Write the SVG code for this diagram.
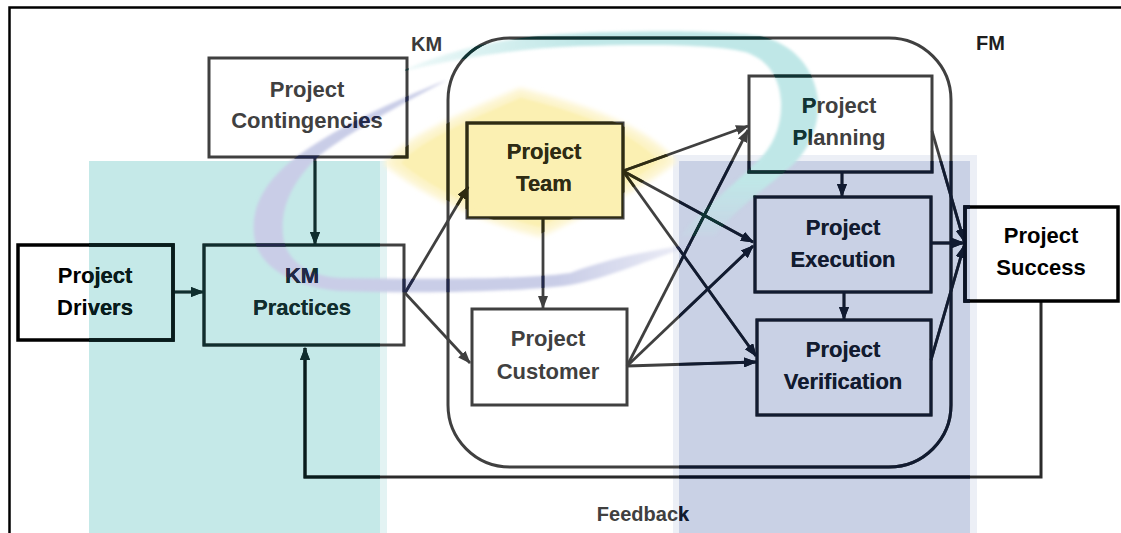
<svg xmlns="http://www.w3.org/2000/svg" width="1121" height="533" viewBox="0 0 1121 533">
  <style>
    .lbl { font-family: "Liberation Sans", Arial, sans-serif; font-weight: 700; font-size: 22px; text-anchor: middle; fill: var(--gray, #404040); }
    .lbl.ink { fill: var(--ink, #000000); }
    .tag { font-family: "Liberation Sans", Arial, sans-serif; font-weight: 700; font-size: 20px; fill: var(--gray, #3a3a3a); }
    .tag.ink { fill: var(--ink, #1e1e1e); }
    .box { fill: none; stroke: var(--gray, #404040); stroke-width: 3; }
    .box.ink { stroke: var(--ink, #000000); stroke-width: 3.5; }
    .wire { fill: none; stroke: var(--gray, #404040); stroke-width: 2.8; }
    .wire.fb { stroke: var(--ink, #2b2b2b); stroke-width: 3; }
    .frame { fill: none; stroke: #000000; stroke-width: 2.5; }
    /* darker inks where the backdrop shapes sit under the drawing */
    .t-teal { --gray: #0f2e2e; --ink: #071c1c; }
    .t-blue { --gray: #111b31; --ink: #0a1226; }
    .t-yellow { --gray: #2f2c12; --ink: #1c1a08; }
    .t-lav { --gray: #22284a; --ink: #141a3c; }
    .t-swoosh { --gray: #0f3434; --ink: #082424; }
  </style>
  <defs>
    <marker id="ah-gray" viewBox="0 0 13 10" refX="12" refY="5" markerWidth="13" markerHeight="10" markerUnits="userSpaceOnUse" orient="auto">
      <path d="M0,0 L13,5 L0,10 Z" fill="#404040"/>
    </marker>
    <marker id="ah-teal" viewBox="0 0 13 10" refX="12" refY="5" markerWidth="13" markerHeight="10" markerUnits="userSpaceOnUse" orient="auto">
      <path d="M0,0 L13,5 L0,10 Z" fill="#0f2e2e"/>
    </marker>
    <marker id="ah-olive" viewBox="0 0 13 10" refX="12" refY="5" markerWidth="13" markerHeight="10" markerUnits="userSpaceOnUse" orient="auto">
      <path d="M0,0 L13,5 L0,10 Z" fill="#2f2c12"/>
    </marker>
    <marker id="ah-navy" viewBox="0 0 13 10" refX="12" refY="5" markerWidth="13" markerHeight="10" markerUnits="userSpaceOnUse" orient="auto">
      <path d="M0,0 L13,5 L0,10 Z" fill="#111b31"/>
    </marker>

    <!-- backdrop emblem shapes -->
    <path id="diamond-shape" d="M387,163 C405,140 470,112 520,91 C575,105 640,125 673,161 C645,185 590,210 540,234 C490,222 425,195 387,163 Z"/>
    <path id="lav-shape" d="M447,80 C395,100 330,130 290,162 C260,187 248,215 256,245 C265,270 295,287 340,291 C420,294 520,292 570,285 C610,278 650,258 702,243 C650,250 610,258 570,273 C520,280 420,279 340,278 C305,276 285,258 283,235 C280,205 295,178 320,155 C350,132 400,105 447,80 Z"/>
    <path id="swoosh-shape" d="M400,72 C430,58 480,40 560,34 C640,30 720,30 760,36 C795,44 815,70 818,100 C820,130 805,155 789,168 C770,185 740,205 714,236 L681,236 C705,205 735,185 752,166 C772,150 782,128 781,102 C780,80 770,60 745,52 C715,44 640,44 580,46 C520,48 460,58 400,72 Z"/>

    <linearGradient id="swoosh-fill" gradientUnits="userSpaceOnUse" x1="0" y1="180" x2="0" y2="238">
      <stop offset="0" stop-color="#bfe7e7" stop-opacity="1"/>
      <stop offset="1" stop-color="#bfe7e7" stop-opacity="0.1"/>
    </linearGradient>
    <linearGradient id="swoosh-left" gradientUnits="userSpaceOnUse" x1="400" y1="0" x2="580" y2="0">
      <stop offset="0" stop-color="#ffffff" stop-opacity="0.25"/>
      <stop offset="1" stop-color="#ffffff" stop-opacity="1"/>
    </linearGradient>
    <mask id="swoosh-mask" maskUnits="userSpaceOnUse" x="0" y="0" width="1121" height="533">
      <rect x="0" y="0" width="1121" height="533" fill="url(#swoosh-left)"/>
    </mask>
    <linearGradient id="lav-fill" gradientUnits="userSpaceOnUse" x1="560" y1="0" x2="705" y2="0">
      <stop offset="0" stop-color="#c9cde7" stop-opacity="1"/>
      <stop offset="1" stop-color="#c9cde7" stop-opacity="0.25"/>
    </linearGradient>

    <filter id="soft" x="-10%" y="-10%" width="120%" height="120%">
      <feGaussianBlur stdDeviation="1.4"/>
    </filter>
    <filter id="softer" x="-10%" y="-10%" width="120%" height="120%">
      <feGaussianBlur stdDeviation="2.6"/>
    </filter>

    <clipPath id="clip-teal"><rect x="89" y="161" width="291" height="380"/></clipPath>
    <clipPath id="clip-blue"><rect x="679" y="161" width="291" height="380"/></clipPath>
    <clipPath id="clip-yellow">
      <use href="#diamond-shape"/>
      <rect x="467" y="123" width="156" height="95"/>
    </clipPath>
    <clipPath id="clip-lav"><use href="#lav-shape"/></clipPath>
    <clipPath id="clip-swoosh"><use href="#swoosh-shape"/></clipPath>
  </defs>

  <!-- backdrop: coloured bands and emblem -->
  <g id="backdrop">
    <rect x="0" y="0" width="1121" height="533" fill="#ffffff"/>
    <rect x="89" y="161" width="298" height="380" fill="#e3f3f3"/>
    <rect x="89" y="161" width="291" height="380" fill="#c5e9e8"/>
    <rect x="673" y="155" width="304" height="380" fill="#eceff6"/>
    <rect x="679" y="161" width="291" height="380" fill="#c9d1e5"/>
    <use href="#diamond-shape" fill="#fcf3c4" stroke="#fdf6d6" stroke-width="6" stroke-linejoin="round" filter="url(#softer)"/>
    <rect x="467" y="123" width="156" height="95" fill="#fbf0b2"/>
    <use href="#diamond-shape" fill="#fbf0b2" filter="url(#soft)" transform="translate(530 162) scale(0.9) translate(-530 -162)"/>
    <use href="#lav-shape" fill="url(#lav-fill)" filter="url(#soft)"/>
    <g mask="url(#swoosh-mask)">
      <use href="#swoosh-shape" fill="url(#swoosh-fill)" filter="url(#soft)"/>
    </g>
  </g>

  <g id="diagram">
    <path class="frame" d="M9.5,540 V7.5 H1130"/>

    <rect id="group-fm" class="box" x="448" y="38" width="503" height="429" rx="62" ry="62"/>

    <g id="connectors">
      <path id="c-contingencies-km" class="wire" d="M315,157 V244" marker-end="url(#ah-teal)"/>
      <path id="c-drivers-km" class="wire" d="M173,292 H203" marker-end="url(#ah-teal)"/>
      <path id="c-km-team" class="wire" d="M405,293 L468,187" marker-end="url(#ah-olive)"/>
      <path id="c-km-customer" class="wire" d="M405,293 L470,363" marker-end="url(#ah-gray)"/>
      <path id="c-team-customer" class="wire" d="M543,218 V308" marker-end="url(#ah-gray)"/>
      <path id="c-team-planning" class="wire" d="M623,171 L748,126" marker-end="url(#ah-gray)"/>
      <path id="c-team-execution" class="wire" d="M623,171 L753,242" marker-end="url(#ah-navy)"/>
      <path id="c-team-verification" class="wire" d="M623,171 L756,356" marker-end="url(#ah-navy)"/>
      <path id="c-customer-planning" class="wire" d="M627,366 L748,130" marker-end="url(#ah-gray)"/>
      <path id="c-customer-execution" class="wire" d="M627,366 L753,246" marker-end="url(#ah-navy)"/>
      <path id="c-customer-verification" class="wire" d="M627,366 L756,362" marker-end="url(#ah-navy)"/>
      <path id="c-planning-execution" class="wire" d="M842,172 V196" marker-end="url(#ah-navy)"/>
      <path id="c-execution-verification" class="wire" d="M844,292 V319" marker-end="url(#ah-navy)"/>
      <path id="c-planning-success" class="wire" d="M932,131 L964,241" marker-end="url(#ah-navy)"/>
      <path id="c-execution-success" class="wire" d="M931,243 H964" marker-end="url(#ah-navy)"/>
      <path id="c-verification-success" class="wire" d="M931,360 L964,246" marker-end="url(#ah-navy)"/>
      <path id="c-feedback" class="wire fb" d="M1041,301 V477 H305 V348" marker-end="url(#ah-teal)"/>
    </g>

    <g id="node-drivers">
      <rect class="box ink" x="18" y="245" width="155" height="95"/>
      <text class="lbl ink" x="95" y="283">Project</text>
      <text class="lbl ink" x="95" y="315">Drivers</text>
    </g>
    <g id="node-km-practices">
      <rect class="box" x="204" y="245" width="200" height="100"/>
      <text class="lbl" x="302" y="283">KM</text>
      <text class="lbl" x="302" y="315">Practices</text>
    </g>
    <g id="node-contingencies">
      <rect class="box" x="209" y="58" width="198" height="99"/>
      <text class="lbl" x="307" y="97">Project</text>
      <text class="lbl" x="307" y="128">Contingencies</text>
    </g>
    <g id="node-team">
      <rect class="box" x="467" y="123" width="156" height="95"/>
      <text class="lbl" x="544" y="159">Project</text>
      <text class="lbl" x="544" y="191">Team</text>
    </g>
    <g id="node-customer">
      <rect class="box" x="472" y="309" width="155" height="96"/>
      <text class="lbl" x="548" y="346">Project</text>
      <text class="lbl" x="548" y="379">Customer</text>
    </g>
    <g id="node-planning">
      <rect class="box" x="749" y="76" width="183" height="96"/>
      <text class="lbl" x="839" y="113">Project</text>
      <text class="lbl" x="839" y="145">Planning</text>
    </g>
    <g id="node-execution">
      <rect class="box" x="755" y="197" width="176" height="95"/>
      <text class="lbl" x="843" y="235">Project</text>
      <text class="lbl" x="843" y="267">Execution</text>
    </g>
    <g id="node-verification">
      <rect class="box" x="757" y="320" width="174" height="95"/>
      <text class="lbl" x="843" y="357">Project</text>
      <text class="lbl" x="843" y="389">Verification</text>
    </g>
    <g id="node-success">
      <rect class="box ink" x="965" y="207" width="153" height="94"/>
      <text class="lbl ink" x="1041" y="243">Project</text>
      <text class="lbl ink" x="1041" y="275">Success</text>
    </g>

    <g id="labels">
      <text class="tag" x="411" y="51">KM</text>
      <text class="tag ink" x="976" y="50">FM</text>
      <text class="lbl" x="643" y="521" style="font-size:20px">Feedback</text>
    </g>
  </g>

  <!-- the same drawing re-inked inside each coloured area -->
  <g id="inked-overlays">
    <use href="#diagram" class="t-teal" clip-path="url(#clip-teal)"/>
    <use href="#diagram" class="t-blue" clip-path="url(#clip-blue)"/>
    <use href="#diagram" class="t-yellow" clip-path="url(#clip-yellow)"/>
    <use href="#diagram" class="t-lav" clip-path="url(#clip-lav)"/>
    <use href="#diagram" class="t-swoosh" clip-path="url(#clip-swoosh)"/>
  </g>
</svg>
